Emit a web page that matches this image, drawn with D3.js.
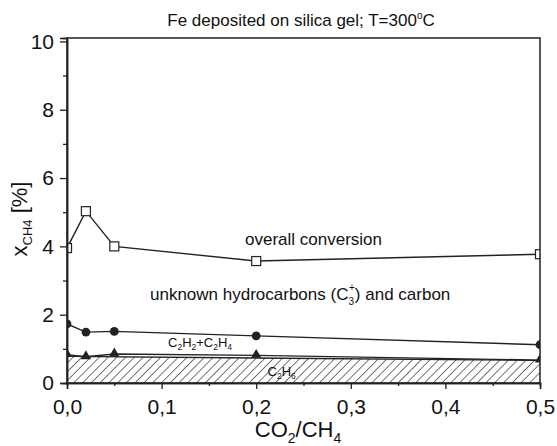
<!DOCTYPE html>
<html>
<head>
<meta charset="utf-8">
<script src="https://cdn.jsdelivr.net/npm/d3@7"></script>
<style>
  html, body { margin: 0; padding: 0; background: #fff; }
  svg text { font-family: "Liberation Sans", Arial, Helvetica, sans-serif; fill: #111; }
</style>
</head>
<body>
<svg id="chart" width="557" height="446"></svg>
<script>
// CO2/CH4 feed ratio
const ratios = [0, 0.02, 0.05, 0.2, 0.5];
// overall CH4 conversion, %
const overall = [3.95, 5.03, 4.0, 3.57, 3.77];
// C2H2 + C2H4 upper boundary, %
const c2Unsat = [1.73, 1.49, 1.51, 1.38, 1.12];
// C2H6 upper boundary (points), %
const c2h6 = [0.83, 0.77, 0.85, 0.81, 0.67];
// hatched C2H6 band top edge, %
const hatchX = [0, 0.5];
const hatchTop = [0.78, 0.66];

const xTicks = [0, 0.1, 0.2, 0.3, 0.4, 0.5];
const xMinor = [0.05, 0.15, 0.25, 0.35, 0.45];
const yTicks = [0, 2, 4, 6, 8, 10];
const yMinor = [1, 3, 5, 7, 9];

const svg = d3.select("#chart");
const m = { left: 67, right: 540, top: 38, bottom: 383 };

const x = d3.scaleLinear().domain([0, 0.5]).range([m.left, m.right]);
const y = d3.scaleLinear().domain([0, 10.1]).range([m.bottom, m.top]);

const defs = svg.append("defs");
defs.append("clipPath").attr("id", "plotClip")
  .append("rect")
  .attr("x", m.left).attr("y", m.top)
  .attr("width", m.right - m.left).attr("height", m.bottom - m.top);

const hatch = defs.append("pattern")
  .attr("id", "hatch")
  .attr("patternUnits", "userSpaceOnUse")
  .attr("width", 6.2).attr("height", 6.2)
  .attr("patternTransform", "rotate(45)");
hatch.append("line")
  .attr("x1", 0).attr("y1", 0).attr("x2", 0).attr("y2", 6.2)
  .attr("stroke", "#1a1a1a").attr("stroke-width", 1.2);

const plot = svg.append("g").attr("clip-path", "url(#plotClip)");

// hatched C2H6 band
const band = d3.area()
  .x((d, i) => x(hatchX[i]))
  .y0(y(0))
  .y1(d => y(d));
plot.append("path")
  .datum(hatchTop)
  .attr("d", band)
  .attr("fill", "url(#hatch)");
plot.append("path")
  .datum(hatchTop)
  .attr("d", d3.line().x((d, i) => x(hatchX[i])).y(d => y(d)))
  .attr("fill", "none").attr("stroke", "#222").attr("stroke-width", 1.3);

// C2H6 label inside band
const c2h6Label = svg.append("text")
  .attr("x", x(0.212)).attr("y", y(0.2))
  .attr("font-size", 13);
c2h6Label.append("tspan").text("C");
c2h6Label.append("tspan").attr("font-size", 8.5).attr("dy", 3).text("2");
c2h6Label.append("tspan").attr("dy", -3).text("H");
c2h6Label.append("tspan").attr("font-size", 8.5).attr("dy", 3).text("6");

// series lines
const lineGen = d3.line().x((d, i) => x(ratios[i])).y(d => y(d));
[overall, c2Unsat, c2h6].forEach(s => {
  plot.append("path")
    .datum(s)
    .attr("d", lineGen)
    .attr("fill", "none")
    .attr("stroke", "#222")
    .attr("stroke-width", 1.4);
});

// markers
plot.selectAll(".sq").data(overall).enter().append("rect")
  .attr("x", (d, i) => x(ratios[i]) - 4.5)
  .attr("y", d => y(d) - 4.5)
  .attr("width", 9).attr("height", 9)
  .attr("fill", "#fff").attr("stroke", "#222").attr("stroke-width", 1.2);

plot.selectAll(".ci").data(c2Unsat).enter().append("circle")
  .attr("cx", (d, i) => x(ratios[i]))
  .attr("cy", d => y(d))
  .attr("r", 4.4)
  .attr("fill", "#222");

const tri = d3.symbol().type(d3.symbolTriangle).size(46);
plot.selectAll(".tr").data(c2h6).enter().append("path")
  .attr("d", tri)
  .attr("transform", (d, i) => `translate(${x(ratios[i])},${y(d) - 0.5})`)
  .attr("fill", "#222");

// frame
svg.append("rect")
  .attr("x", m.left).attr("y", m.top)
  .attr("width", m.right - m.left).attr("height", m.bottom - m.top)
  .attr("fill", "none").attr("stroke", "#222").attr("stroke-width", 1.5);

// axes
svg.append("g").attr("transform", `translate(0,${m.bottom})`)
  .call(d3.axisBottom(x).tickValues(xTicks).tickSize(6).tickPadding(10)
    .tickFormat(d => d3.format(".1f")(d).replace(".", ",")));
svg.append("g").attr("transform", `translate(0,${m.bottom})`)
  .call(d3.axisBottom(x).tickValues(xMinor).tickSize(3).tickFormat(""));

svg.append("g").attr("transform", `translate(${m.left},0)`)
  .call(d3.axisLeft(y).tickValues(yTicks).tickSize(7).tickPadding(6)
    .tickFormat(d3.format("d")));
svg.append("g").attr("transform", `translate(${m.left},0)`)
  .call(d3.axisLeft(y).tickValues(yMinor).tickSize(4).tickFormat(""));

svg.selectAll(".domain").attr("stroke", "#222").attr("stroke-width", 1.5);
svg.selectAll(".tick line").attr("stroke", "#222").attr("stroke-width", 1.3);
svg.selectAll(".tick text")
  .attr("font-size", 21)
  .attr("font-family", "Liberation Sans, Arial, sans-serif")
  .attr("fill", "#111");

// title
const title = svg.append("text")
  .attr("x", 301).attr("y", 26)
  .attr("text-anchor", "middle").attr("font-size", 17);
title.append("tspan").text("Fe deposited on silica gel; T=300");
title.append("tspan").attr("font-size", 10).attr("dy", -7).text("o");
title.append("tspan").attr("dy", 7).text("C");

// axis titles
const xt = svg.append("text")
  .attr("x", 298).attr("y", 437)
  .attr("text-anchor", "middle").attr("font-size", 22);
xt.append("tspan").text("CO");
xt.append("tspan").attr("font-size", 14).attr("dy", 6).text("2");
xt.append("tspan").attr("dy", -6).text("/CH");
xt.append("tspan").attr("font-size", 14).attr("dy", 6).text("4");

const yt = svg.append("text")
  .attr("transform", "translate(27,219) rotate(-90)")
  .attr("text-anchor", "middle").attr("font-size", 22);
yt.append("tspan").text("x");
yt.append("tspan").attr("font-size", 13).attr("dy", 5).text("CH4");
yt.append("tspan").attr("dy", -5).text(" [%]");

// region annotations
svg.append("text")
  .attr("x", 245).attr("y", 245)
  .attr("font-size", 17)
  .text("overall conversion");

const unk = svg.append("text")
  .attr("x", 150).attr("y", 300)
  .attr("font-size", 17);
unk.append("tspan").text("unknown hydrocarbons (C");
unk.append("tspan").attr("font-size", 10).attr("dy", 5).text("3");
unk.append("tspan").attr("font-size", 10).attr("dx", -5).attr("dy", -14).text("+");
unk.append("tspan").attr("dy", 9).text(") and carbon");

const c2 = svg.append("text")
  .attr("x", 168).attr("y", 347)
  .attr("font-size", 13);
c2.append("tspan").text("C");
c2.append("tspan").attr("font-size", 8.5).attr("dy", 3).text("2");
c2.append("tspan").attr("dy", -3).text("H");
c2.append("tspan").attr("font-size", 8.5).attr("dy", 3).text("2");
c2.append("tspan").attr("dy", -3).text("+C");
c2.append("tspan").attr("font-size", 8.5).attr("dy", 3).text("2");
c2.append("tspan").attr("dy", -3).text("H");
c2.append("tspan").attr("font-size", 8.5).attr("dy", 3).text("4");
</script>
</body>
</html>
